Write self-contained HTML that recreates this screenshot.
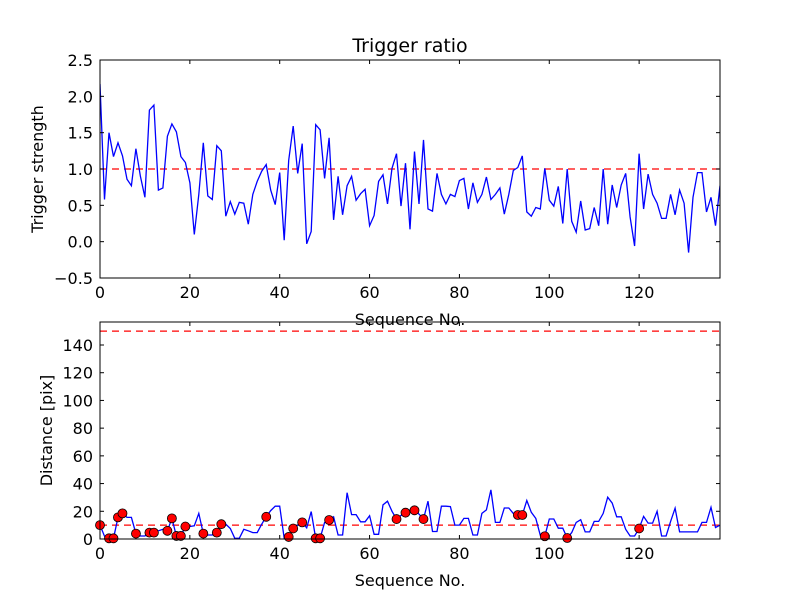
<!DOCTYPE html>
<html><head><meta charset="utf-8"><style>
html,body{margin:0;padding:0;background:#fff;}
svg{display:block;font-family:"DejaVu Sans","Liberation Sans",sans-serif;}
</style></head><body>
<svg id="fig" width="800" height="600"></svg>
<script>
const ratio=[2.17,0.58,1.5,1.17,1.36,1.18,0.86,0.77,1.28,0.9,0.61,1.81,1.88,0.71,0.74,1.45,1.62,1.51,1.17,1.09,0.81,0.1,0.65,1.36,0.63,0.58,1.32,1.25,0.35,0.55,0.38,0.54,0.53,0.24,0.65,0.83,0.97,1.06,0.71,0.51,0.95,0.02,1.12,1.59,0.94,1.35,-0.03,0.14,1.61,1.54,0.87,1.43,0.3,0.9,0.37,0.77,0.9,0.57,0.66,0.72,0.22,0.36,0.83,0.92,0.52,1.01,1.21,0.49,1.08,0.17,1.24,0.52,1.4,0.45,0.42,0.94,0.65,0.52,0.65,0.62,0.84,0.87,0.45,0.81,0.54,0.65,0.89,0.58,0.65,0.74,0.38,0.65,0.98,1.02,1.18,0.41,0.35,0.47,0.45,1.01,0.57,0.49,0.76,0.25,1.0,0.28,0.13,0.56,0.16,0.18,0.47,0.22,1.0,0.24,0.78,0.47,0.78,0.94,0.34,-0.06,1.21,0.45,0.93,0.65,0.53,0.32,0.32,0.65,0.37,0.71,0.53,-0.15,0.61,0.95,0.95,0.41,0.61,0.22,0.77];
const dist=[10,2,0.5,0.5,15.6,18.5,15.6,15.6,3.9,2.2,2.2,4.6,4.6,5.9,7,5.9,14.9,2.2,2.2,9,9,9.5,18.5,3.9,2.9,2.9,4.6,10.7,10.7,7.6,0.5,0.5,7,5.9,4.6,4.6,10.7,16,20.5,23.7,23.7,0.5,1.5,7.6,10,12,8,19.8,0.5,0.5,12,13.7,16,2.9,2.9,33.4,17.6,17.6,12.4,12.4,16.8,3.4,3.4,24.6,27.3,20,14.4,17,19,21,20.7,18,14.4,27.3,5.4,5.4,23.7,23.7,23.4,10,10,14.9,14.9,2.9,2.9,18.5,21,35.4,12,12,22.4,22.4,18.5,17.3,17.3,27.8,19.3,14.9,2.7,2,14.4,14.4,7.8,7.8,0.7,4.6,12,13.9,5.1,5.1,12.7,12.7,18.5,30.2,25.9,16,16,7,2.2,2.2,7.6,16.3,11.5,11.5,20,2.2,2.2,12.7,22.2,5.1,5.1,5.1,5.1,5.1,12,12,22.9,8.3,10];
const triggerIdx=[0,2,3,4,5,8,11,12,15,16,17,18,19,23,26,27,37,42,43,45,48,49,51,66,68,70,72,93,94,99,104,120];
const xTicks=[0,20,40,60,80,100,120];
const yTicksTop=[-0.5,0.0,0.5,1.0,1.5,2.0,2.5];
const yTicksBot=[0,20,40,60,80,100,120,140];
const thrTop=[1.0];
const thrBot=[10,150];

const NS="http://www.w3.org/2000/svg";
const svg=document.getElementById('fig');
function mk(tag,attrs,parent){const e=document.createElementNS(NS,tag);for(const k in attrs)e.setAttribute(k,attrs[k]);(parent||svg).appendChild(e);return e;}
function panel(cfg){
  const L=100,R=720,T=cfg.top,B=cfg.bottom;
  const sx=v=>L+(v-0)/(138-0)*(R-L);
  const sy=v=>B-(v-cfg.ymin)/(cfg.ymax-cfg.ymin)*(B-T);
  const g=mk('g',{});
  
  
  const clipId=cfg.name+'-clip';
  const cp=mk('clipPath',{id:clipId},g);mk('rect',{x:L,y:T,width:R-L,height:B-T},cp);
  cfg.thr.forEach(t=>{const l=mk('line',{x1:L,x2:R,y1:sy(t),y2:sy(t),stroke:'#ff0000','stroke-width':1.2,'stroke-dasharray':'7,5','clip-path':`url(#${clipId})`},g);
    });
  const pts=cfg.data.map((v,i)=>sx(i).toFixed(1)+','+sy(v).toFixed(1)).join(' ');
  const pl=mk('polyline',{points:pts,fill:'none',stroke:'#0000ff','stroke-width':1.3,'clip-path':`url(#${clipId})`},g);
  
  if(cfg.dots){cfg.dots.forEach(i=>{const c=mk('circle',{cx:sx(i),cy:sy(cfg.data[i]),r:4.5,fill:'#ff0000',stroke:'#000','stroke-width':0.8},g);
    });}
  const f=mk('rect',{x:L,y:T,width:R-L,height:B-T,fill:'none',stroke:'#000','stroke-width':1},g);
  
  xTicks.forEach(v=>{const x=sx(v);mk('line',{x1:x,x2:x,y1:B,y2:B-4,stroke:'#000'},g);mk('line',{x1:x,x2:x,y1:T,y2:T+4,stroke:'#000'},g);
    const t=mk('text',{x:x,y:B+20,'text-anchor':'middle','font-size':16},g);t.textContent=v;
    });
  cfg.yticks.forEach(v=>{const y=sy(v);mk('line',{x1:L,x2:L+4,y1:y,y2:y,stroke:'#000'},g);mk('line',{x1:R,x2:R-4,y1:y,y2:y,stroke:'#000'},g);
    const t=mk('text',{x:L-7,y:y+6,'text-anchor':'end','font-size':16},g);t.textContent=cfg.fmt(v);
    });
  const xl=mk('text',{x:(L+R)/2,y:B+47,'text-anchor':'middle','font-size':16},g);xl.textContent='Sequence No.';
  
  const yx=cfg.ylabelX,yy=(T+B)/2;
  const yl=mk('text',{x:yx,y:yy,'text-anchor':'middle','font-size':16,transform:`rotate(-90 ${yx} ${yy})`},g);yl.textContent=cfg.ylabel;
  
  if(cfg.title){const tt=mk('text',{x:(L+R)/2,y:T-8,'text-anchor':'middle','font-size':19},g);tt.textContent=cfg.title;
    }
}
panel({name:'trigger-ratio-panel',seriesName:'trigger-strength-line',top:60,bottom:278,ymin:-0.5,ymax:2.5,data:ratio,thr:thrTop,yticks:yTicksTop,fmt:v=>(v<0?'\u2212':'')+Math.abs(v).toFixed(1),ylabel:'Trigger strength',ylabelX:43,title:'Trigger ratio'});
panel({name:'distance-panel',seriesName:'distance-line',top:322,bottom:539,ymin:0,ymax:156.6,data:dist,thr:thrBot,yticks:yTicksBot,fmt:v=>String(v),ylabel:'Distance [pix]',ylabelX:52,dots:triggerIdx});
</script>
</body></html>
